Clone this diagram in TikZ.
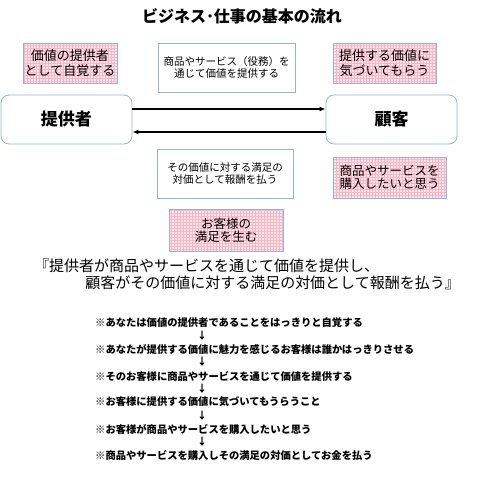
\documentclass[tikz,border=0pt]{standalone}
\usepackage{fontspec}
\setmainfont{Noto Sans CJK JP}
\usetikzlibrary{patterns,arrows.meta}
\definecolor{bord}{RGB}{149,179,215}
\definecolor{pkbase}{RGB}{252,228,233}
\definecolor{pkline}{RGB}{246,184,196}
\tikzset{
  plainbox/.style={draw=bord, line width=0.8pt, fill=white, inner sep=0pt, align=center},
  pinkbox/.style={draw=bord, line width=0.8pt, preaction={fill=pkbase}, pattern=grid, pattern color=pkline, inner sep=0pt, align=center},
  roundbox/.style={draw=bord, line width=0.8pt, rounded corners=8pt, fill=white, inner sep=0pt, align=center},
  flowarrow/.style={-{Latex[length=6pt,width=5pt]}, line width=1.6pt},
  listtext/.style={anchor=west, inner sep=0pt, font=\bfseries\fontsize{10.3}{12}\selectfont},
  downarrow/.style={inner sep=0pt, font=\bfseries\fontsize{10}{12}\selectfont}
}
\begin{document}
\begin{tikzpicture}[x=1pt,y=-1pt]
\useasboundingbox (0,0) rectangle (478,480);
\node (title) at (242,16) {\bfseries\fontsize{16}{18}\selectfont ビジネス･仕事の基本の流れ};

\node[pinkbox, minimum width=94pt, minimum height=40pt, font=\fontsize{13}{15.5}\selectfont] (b1) at (70,63) {価値の提供者\\として自覚する};
\node[plainbox, minimum width=137pt, minimum height=49pt, font=\fontsize{10.5}{12}\selectfont] (b2) at (226.5,67.5) {商品やサービス（役務）を\\通じて価値を提供する};
\node[pinkbox, minimum width=103pt, minimum height=40pt, font=\fontsize{13}{14.5}\selectfont] (b3) at (384.5,63) {提供する価値に\\気づいてもらう};

\node[roundbox, minimum width=131pt, minimum height=49pt, font=\bfseries\fontsize{17}{19}\selectfont] (prov) at (66.5,119.5) {提供者};
\node[roundbox, minimum width=131pt, minimum height=49pt, font=\bfseries\fontsize{17}{19}\selectfont] (cust) at (391.5,119.5) {顧客};

\draw[flowarrow] ([yshift=10.5pt]prov.east) -- ([yshift=10.5pt]cust.west);
\draw[flowarrow] ([yshift=-12.5pt]cust.west) -- ([yshift=-12.5pt]prov.east);

\node[plainbox, minimum width=136pt, minimum height=49pt, font=\fontsize{10.5}{11.5}\selectfont] (b4) at (225,173.5) {その価値に対する満足の\\対価として報酬を払う};
\node[pinkbox, minimum width=113pt, minimum height=41pt, font=\fontsize{12.5}{13.5}\selectfont] (b5) at (389.5,177.5) {商品やサービスを\\購入したいと思う};
\node[pinkbox, minimum width=114pt, minimum height=42pt, font=\fontsize{12.5}{13.5}\selectfont] (b6) at (226,230) {お客様の\\満足を生む};

\node[anchor=west, inner sep=0pt, font=\fontsize{15}{17}\selectfont] (q1) at (34,266) {『提供者が商品やサービスを通じて価値を提供し、};
\node[anchor=east, inner sep=0pt, font=\fontsize{15}{17}\selectfont] (q2) at (460,283) {顧客がその価値に対する満足の対価として報酬を払う』};

\node[listtext] (l1) at (95,323) {※あなたは価値の提供者であることをはっきりと自覚する};
\node[downarrow] (d1) at (202,336) {↓};
\node[listtext] (l2) at (95,349) {※あなたが提供する価値に魅力を感じるお客様は誰かはっきりさせる};
\node[downarrow] (d2) at (202,362) {↓};
\node[listtext] (l3) at (95,376) {※そのお客様に商品やサービスを通じて価値を提供する};
\node[downarrow] (d3) at (202,389) {↓};
\node[listtext] (l4) at (95,402) {※お客様に提供する価値に気づいてもうらうこと};
\node[downarrow] (d4) at (202,416) {↓};
\node[listtext] (l5) at (95,429) {※お客様が商品やサービスを購入したいと思う};
\node[downarrow] (d5) at (202,442) {↓};
\node[listtext] (l6) at (95,456) {※商品やサービスを購入しその満足の対価としてお金を払う};
\end{tikzpicture}
\end{document}
